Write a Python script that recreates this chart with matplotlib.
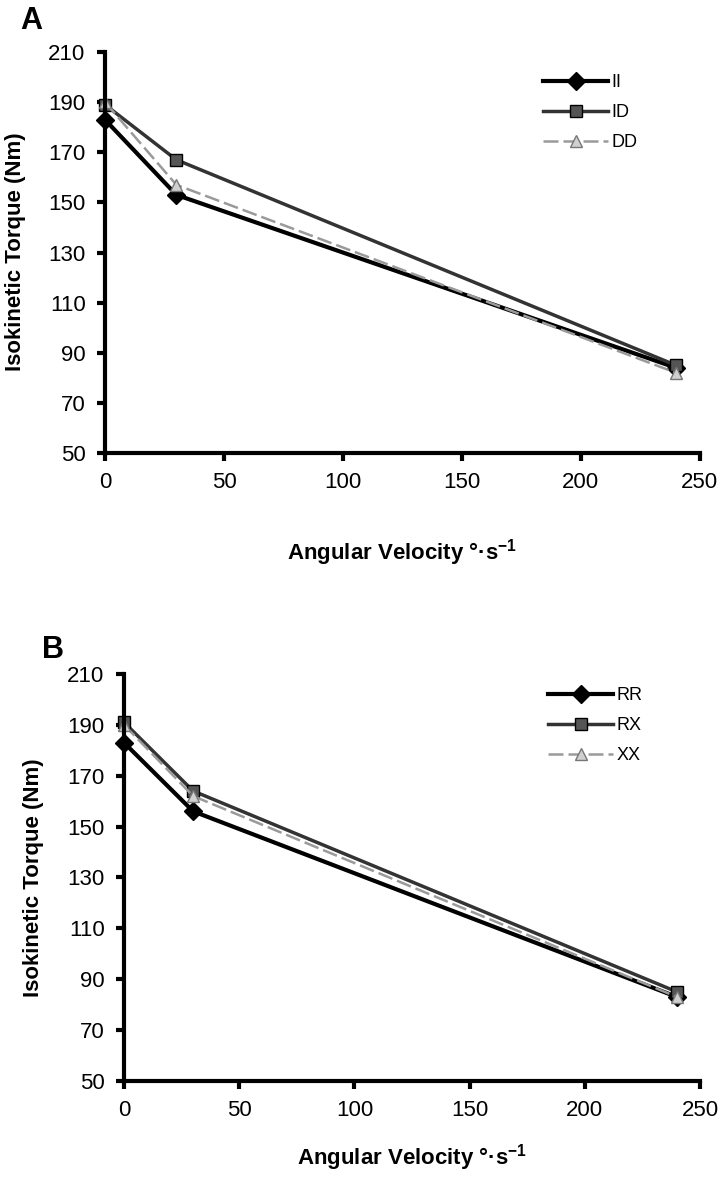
import matplotlib
matplotlib.use('Agg')
import matplotlib.pyplot as plt

plt.rcParams['font.family'] = ['Liberation Sans', 'DejaVu Sans']
plt.rcParams['mathtext.fontset'] = 'custom'
plt.rcParams['mathtext.rm'] = 'Liberation Sans'
plt.rcParams['mathtext.bf'] = 'Liberation Sans:bold'

# data
velocity = [0, 30, 240]
II = [183, 153, 84]
ID = [189, 167, 85]
DD = [190, 157, 82]
RR = [183, 156, 83]
RX = [191, 164, 85]
XX = [190, 162, 83]

yticks = [50, 70, 90, 110, 130, 150, 170, 190, 210]
xticks = [0, 50, 100, 150, 200, 250]

fig = plt.figure(figsize=(7.22, 11.77), dpi=100)
axA = fig.add_axes([0.1454, 0.6151, 0.824, 0.3407])
axB = fig.add_axes([0.1717, 0.0816, 0.798, 0.3458])


def style(ax):
    ax.set_xlim(0, 250)
    ax.set_ylim(50, 210)
    ax.set_xticks(xticks)
    ax.set_yticks(yticks)
    for s in ['top', 'right']:
        ax.spines[s].set_visible(False)
    for s in ['left', 'bottom']:
        ax.spines[s].set_linewidth(3)
    ax.tick_params(direction='out', length=6, width=3, labelsize=16, pad=8)


def draw(ax, s1, s2, s3, names):
    ax.plot(velocity, s1, color='black', lw=3, marker='D', ms=9, label=names[0], clip_on=False)
    ax.plot(velocity, s2, color='#333333', lw=2.5, marker='s', ms=9, mfc='#555555', mec='black',
            label=names[1], clip_on=False)
    ax.plot(velocity, s3, color='#9a9a9a', lw=1.8, ls=(0, (6, 2)), marker='^', ms=9, mfc='#d0d0d0',
            mec='#777777', label=names[2], clip_on=False)


style(axA)
style(axB)
draw(axA, II, ID, DD, ['II', 'ID', 'DD'])
draw(axB, RR, RX, XX, ['RR', 'RX', 'XX'])

leg = dict(frameon=False, fontsize=13, handlelength=3.6, handletextpad=0.2, labelspacing=0.72,
           borderpad=0, borderaxespad=0, loc='upper left', bbox_transform=fig.transFigure)
axA.legend(bbox_to_anchor=(543 / 722, 1 - 74 / 1177), **leg)
axB.legend(bbox_to_anchor=(548 / 722, 1 - 687 / 1177), **leg)

lab = dict(fontsize=16, fontweight='bold')
xlab = 'Angular Velocity \u00b0\u00b7s$^{\\mathbf{-1}}$'
fig.text(16 / 722, 1 - 252 / 1177, 'Isokinetic Torque (Nm)', rotation=90, ha='center', va='center', **lab)
fig.text(34 / 722, 1 - 878 / 1177, 'Isokinetic Torque (Nm)', rotation=90, ha='center', va='center', **lab)
fig.text(402 / 722, 1 - 553 / 1177, xlab, ha='center', va='center', **lab)
fig.text(412 / 722, 1 - 1158 / 1177, xlab, ha='center', va='center', **lab)

fig.text(20 / 722, 1 - 21 / 1177, 'A', fontsize=22, fontweight='bold', ha='left', va='center')
fig.text(42 / 722, 1 - 650 / 1177, 'B', fontsize=22, fontweight='bold', ha='left', va='center')

fig.savefig('out.png', dpi=100)
